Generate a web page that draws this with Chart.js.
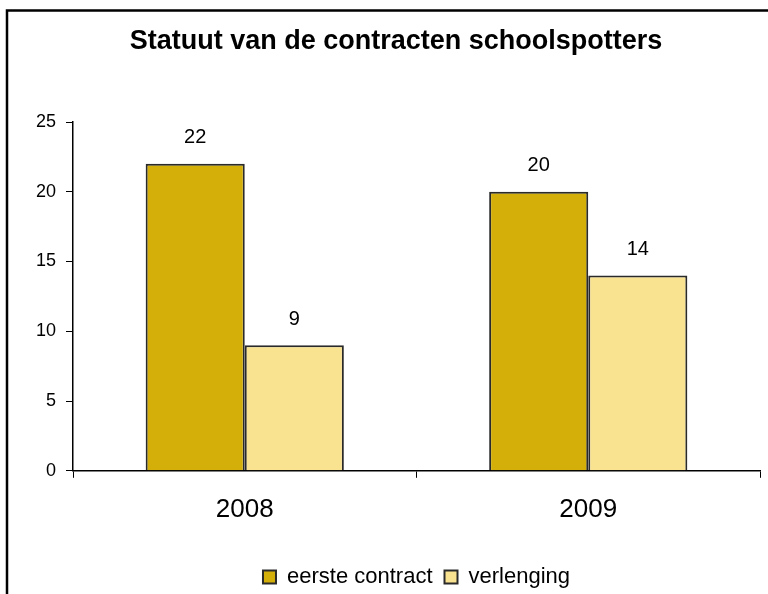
<!DOCTYPE html>
<html>
<head>
<meta charset="utf-8">
<script src="https://cdn.jsdelivr.net/npm/chart.js@4/dist/chart.umd.min.js"></script>
<style>
  html, body { margin: 0; padding: 0; background: #fff; }
  #wrap { width: 768px; height: 594px; position: relative; }
</style>
</head>
<body>
<div id="wrap"><canvas id="contractChart" width="768" height="594"></canvas></div>
<script>
const titleText = 'Statuut van de contracten schoolspotters';
const years = ['2008', '2009'];
const eersteContract = [22, 20];
const verlenging = [9, 14];
const yTicks = [0, 5, 10, 15, 20, 25];

const darkGold = '#D4AF0A';
const lightGold = '#F9E290';
const edge = '#2a2a2a';
const fontFamily = '"Liberation Sans", Arial, sans-serif';

// frame round the chart (top + left edge only, as in the original) and the title
const framePlugin = {
    id: 'frame',
    beforeDraw: chart => {
        const ctx = chart.ctx;
        ctx.save();
        ctx.strokeStyle = '#000';
        ctx.lineWidth = 2.5;
        ctx.beginPath();
        ctx.moveTo(7, chart.height);
        ctx.lineTo(7, 10.5);
        ctx.lineTo(chart.width, 10.5);
        ctx.stroke();

        ctx.font = 'bold 27px ' + fontFamily;
        ctx.fillStyle = '#000';
        ctx.textAlign = 'center';
        ctx.textBaseline = 'middle';
        ctx.fillText(titleText, 396, 42);
        ctx.restore();
    }
};

// value labels above the bars
const valueLabels = {
    id: 'valueLabels',
    afterDatasetsDraw: chart => {
        const ctx = chart.ctx;
        ctx.save();
        ctx.font = '20px ' + fontFamily;
        ctx.fillStyle = '#000';
        ctx.textAlign = 'center';
        ctx.textBaseline = 'middle';
        chart.data.datasets.forEach((ds, i) => {
            const meta = chart.getDatasetMeta(i);
            meta.data.forEach((bar, j) => {
                ctx.fillText(String(ds.data[j]), bar.x, bar.y - 26);
            });
        });
        ctx.restore();
    }
};

const ctx = document.getElementById('contractChart').getContext('2d');

new Chart(ctx, {
    type: 'bar',
    data: {
        labels: years,
        datasets: [
            {
                label: 'eerste contract',
                data: eersteContract,
                backgroundColor: darkGold,
                borderColor: edge,
                borderWidth: 2
            },
            {
                label: 'verlenging',
                data: verlenging,
                backgroundColor: lightGold,
                borderColor: edge,
                borderWidth: 2
            }
        ]
    },
    options: {
        responsive: false,
        animation: false,
        layout: { padding: { left: 32, right: 8, top: 122, bottom: -4 } },
        datasets: {
            bar: { categoryPercentage: 0.577, barPercentage: 1.0 }
        },
        plugins: {
            title: { display: false },
            legend: {
                position: 'bottom',
                fullSize: false,
                // empty legend title only used as a spacer above the items
                title: {
                    display: true,
                    text: ' ',
                    color: 'rgba(0,0,0,0)',
                    font: { size: 10, lineHeight: 1 },
                    padding: { top: 3, bottom: 0 }
                },
                labels: {
                    color: '#000',
                    font: { family: fontFamily, size: 22 },
                    boxWidth: 13,
                    boxHeight: 13,
                    padding: 12
                }
            },
            tooltip: { enabled: false }
        },
        scales: {
            x: {
                grid: {
                    display: true,
                    drawOnChartArea: false,
                    offset: true,
                    color: '#000',
                    tickLength: 7
                },
                border: { display: true, color: '#000', width: 1.5 },
                ticks: {
                    color: '#000',
                    font: { family: fontFamily, size: 26 },
                    padding: 16
                }
            },
            y: {
                min: 0,
                max: 25,
                afterFit: scale => { scale.width = 41; },
                afterBuildTicks: scale => {
                    scale.ticks = yTicks.map(v => ({ value: v }));
                },
                grid: {
                    display: true,
                    drawOnChartArea: false,
                    color: '#000',
                    tickLength: 7
                },
                border: { display: true, color: '#000', width: 1.5 },
                ticks: {
                    color: '#000',
                    font: { family: fontFamily, size: 18 },
                    padding: 10
                }
            }
        }
    },
    plugins: [framePlugin, valueLabels]
});
</script>
</body>
</html>
